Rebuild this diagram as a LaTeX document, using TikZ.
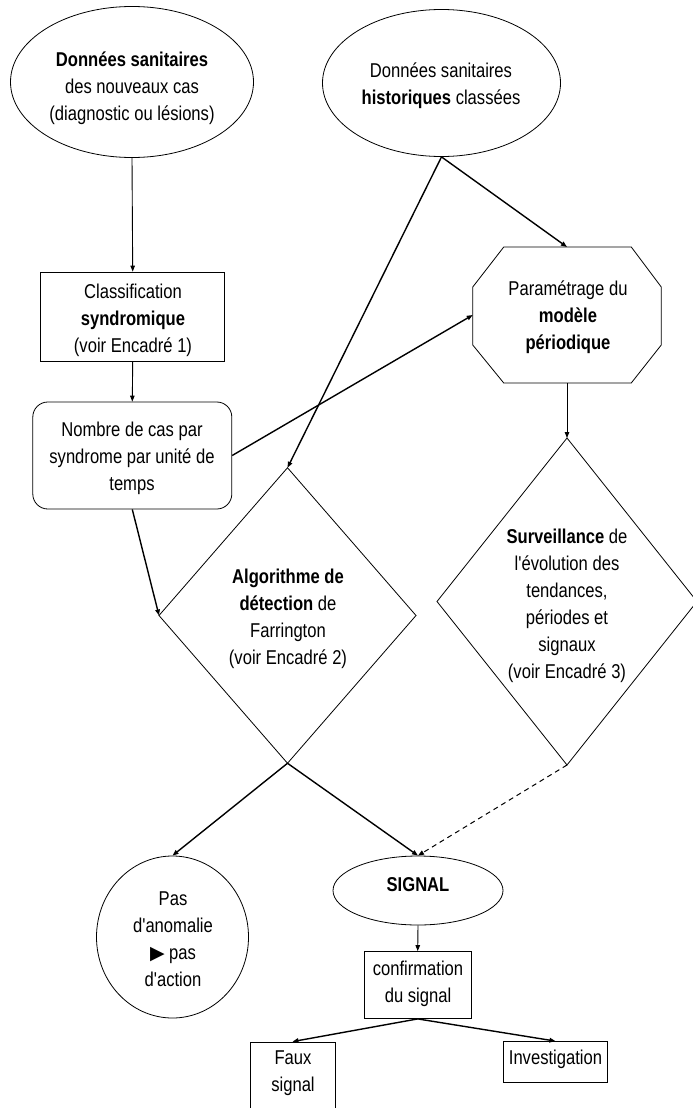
\documentclass[tikz,border=0pt]{standalone}
\usepackage{fontspec}
\setmainfont{Liberation Sans}[FakeStretch=0.83, Ligatures=TeXOff]
\newfontfamily\dejavu{DejaVu Sans}
\usetikzlibrary{shapes.geometric,arrows.meta}
\newcommand\nfont{\fontsize{20}{27}\selectfont}
\tikzset{
  shp/.style={draw, line width=0.8pt, inner sep=0pt},
  hold/.style={inner sep=0pt, outer sep=0pt},
  txt/.style={align=center, font=\nfont, inner sep=0pt},
  arr/.style={-{Triangle[length=6pt,width=4.5pt]}, line width=0.9pt},
  arrB/.style={arr, line width=1.4pt},
  arrD/.style={arr, line width=1pt, dash pattern=on 5pt off 4pt},
}
\begin{document}
\begin{tikzpicture}[x=1pt,y=-1pt]
\useasboundingbox (0,0) rectangle (693,1108);
% shapes
\node[shp, ellipse, minimum width=243pt, minimum height=151pt] (e1) at (132,82) {};
\node[txt] (e1t) at (132,88) {\textbf{Données sanitaires}\\des nouveaux cas\\(diagnostic ou lésions)};
\node[shp, ellipse, minimum width=238pt, minimum height=147pt] (e2) at (441.5,83) {};
\node[txt] (e2t) at (441,86) {Données sanitaires\\\textbf{historiques} classées};
\node[shp, rectangle, minimum width=184pt, minimum height=89pt] (cls) at (132.7,316.5) {};
\node[txt] (clst) at (133,320) {Classification\\\textbf{syndromique}\\(voir Encadré 1)};
\node[shp, rectangle, rounded corners=15pt, minimum width=199pt, minimum height=107pt] (nb) at (132.3,455.5) {};
\node[txt] (nbt) at (132,458) {Nombre de cas par\\syndrome par unité de\\temps};
% octagon
\node[hold, rectangle, minimum width=188.5pt, minimum height=136pt] (oct) at (567,315) {};
\draw[line width=0.8pt] ([xshift=31pt]oct.north west) -- ([xshift=-30pt]oct.north east)
  -- ([yshift=-40pt]oct.north east) -- ([yshift=38pt]oct.south east)
  -- ([xshift=-30pt]oct.south east) -- ([xshift=31pt]oct.south west)
  -- ([yshift=38pt]oct.south west) -- ([yshift=-40pt]oct.north west) -- cycle;
\node[txt] (octt) at (568,317) {Paramétrage du\\\textbf{modèle}\\\textbf{périodique}};
% diamonds
\node[hold, rectangle, minimum width=257pt, minimum height=295.5pt] (d1) at (287.5,615.5) {};
\draw[line width=0.8pt] (d1.north) -- (d1.east) -- (d1.south) -- (d1.west) -- cycle;
\node[txt] (d1t) at (288,618.5) {\textbf{Algorithme de}\\\textbf{détection} de\\Farrington\\(voir Encadré 2)};
\node[hold, rectangle, minimum width=260pt, minimum height=327pt] (d2) at (567,601.5) {};
\draw[line width=0.8pt] (d2.north) -- (d2.east) -- (d2.south) -- (d2.west) -- cycle;
\node[txt] (d2t) at (567,606) {\textbf{Surveillance} de\\l'évolution des\\tendances,\\périodes et\\signaux\\(voir Encadré 3)};
% bottom
\node[shp, ellipse, minimum width=152pt, minimum height=162pt] (pas) at (172.5,937) {};
\node[txt] (past) at (173,939) {Pas\\d'anomalie\\{\dejavu\fontsize{19}{27}\selectfont ▶} pas\\d'action};
\node[shp, ellipse, minimum width=170pt, minimum height=69pt] (sig) at (418,890.5) {};
\node[txt] (sigt) at (418,885) {\textbf{SIGNAL}};
\node[shp, rectangle, minimum width=107pt, minimum height=67pt] (conf) at (417.7,985) {};
\node[txt] (conft) at (418,983.5) {confirmation\\du signal};
\node[shp, rectangle, minimum width=85pt, minimum height=80pt] (faux) at (292.5,1082) {};
\node[txt] (fauxt) at (293,1072.7) {Faux\\signal};
\node[shp, rectangle, minimum width=104pt, minimum height=41pt] (inv) at (555.5,1062) {};
\node[txt] (invt) at (555.5,1059) {Investigation};
% connectors
\draw[arr] (e1.south) -- (cls.north);
\draw[arr] (cls.south) -- (nb.north);
\draw[arrB] (e2.south) -- (d1.north);
\draw[arrB] (e2.south) -- (oct.north);
\draw[arrB] (nb.east) -- (oct.west);
\draw[arrB] (nb.south) -- (d1.west);
\draw[arr] (oct.south) -- (d2.north);
\draw[arrB] (d1.south) -- (pas.north);
\draw[arrB] (d1.south) -- (sig.north);
\draw[arrD] (d2.south) -- (sig.north);
\draw[arr] (sig.south) -- (conf.north);
\draw[arrB] (conf.south) -- (faux.north);
\draw[arrB] (conf.south) -- (inv.north);
\end{tikzpicture}
\end{document}
